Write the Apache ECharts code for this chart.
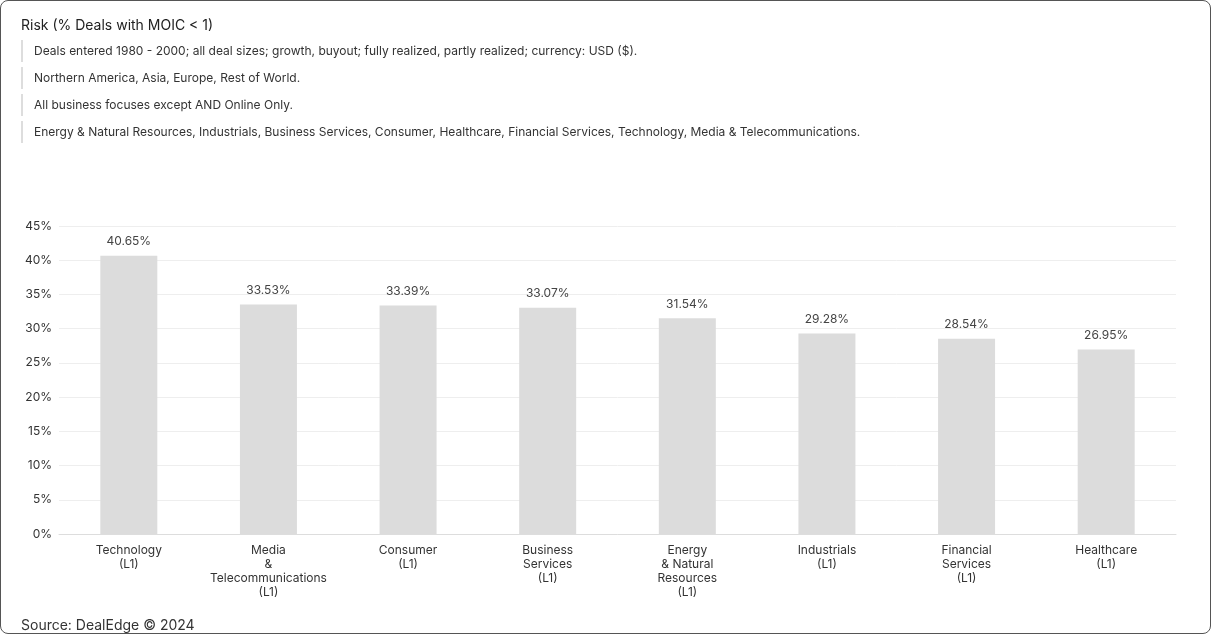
<!DOCTYPE html>
<html>
<head>
<meta charset="utf-8">
<script src="https://cdn.jsdelivr.net/npm/echarts@6/dist/echarts.min.js"></script>
<style>
  body { margin: 0; background: #fff; font-family: Inter, "Noto Sans", sans-serif; }
  .frame { position: absolute; left: 0; top: 0; width: 1209px; height: 632px; border: 1px solid #555; border-radius: 8px; overflow: hidden; }
  .title { position: absolute; left: 20px; top: 15px; font-size: 14px; color: #222; }
  .filter { position: absolute; left: 20px; height: 22px; border-left: 2px solid #ddd; padding-left: 11px; font-size: 12px; color: #333; line-height: 22px; }
  .source { position: absolute; left: 20px; top: 615px; font-size: 14px; color: #333; }
  #chart { position: absolute; left: 0; top: 0; width: 1211px; height: 634px; }
</style>
</head>
<body>
<div class="frame">
  <div id="chart"></div>
  <div class="title">Risk (% Deals with MOIC &lt; 1)</div>
  <div class="filter" style="top:39px">Deals entered 1980 - 2000; all deal sizes; growth, buyout; fully realized, partly realized; currency: USD ($).</div>
  <div class="filter" style="top:66px">Northern America, Asia, Europe, Rest of World.</div>
  <div class="filter" style="top:93px">All business focuses except AND Online Only.</div>
  <div class="filter" style="top:120px">Energy &amp; Natural Resources, Industrials, Business Services, Consumer, Healthcare, Financial Services, Technology, Media &amp; Telecommunications.</div>
  <div class="source">Source: DealEdge © 2024</div>
</div>
<script>
// 카테고리와 값
var categories = ['Technology\n(L1)', 'Media\n&\nTelecommunications\n(L1)', 'Consumer\n(L1)', 'Business\nServices\n(L1)',
                  'Energy\n& Natural\nResources\n(L1)', 'Industrials\n(L1)', 'Financial\nServices\n(L1)', 'Healthcare\n(L1)'];
var riskValues = [40.65, 33.53, 33.39, 33.07, 31.54, 29.28, 28.54, 26.95];

var chart = echarts.init(document.getElementById('chart'));
chart.setOption({
    animation: false,
    grid: { left: 58, right: 36, top: 225, bottom: 101 },
    xAxis: {
        type: 'category',
        data: categories,
        axisTick: { show: false },
        axisLine: { lineStyle: { color: '#ddd' } },
        axisLabel: { color: '#333', fontSize: 12, fontFamily: 'Inter', lineHeight: 14, margin: 9, interval: 0 }
    },
    yAxis: {
        type: 'value',
        min: 0, max: 45, interval: 5,
        axisLabel: { formatter: '{value}%', color: '#333', fontSize: 12, fontFamily: 'Inter', margin: 7 },
        splitLine: { lineStyle: { color: '#eee' } }
    },
    series: [{
        type: 'bar',
        data: riskValues,
        barWidth: 57,
        itemStyle: { color: '#dcdcdc' },
        label: { show: true, position: 'top', distance: 8, formatter: function(p) { return p.value.toFixed(2) + '%'; },
                 color: '#444', fontSize: 12, fontFamily: 'Inter' }
    }]
});
</script>
</body>
</html>
